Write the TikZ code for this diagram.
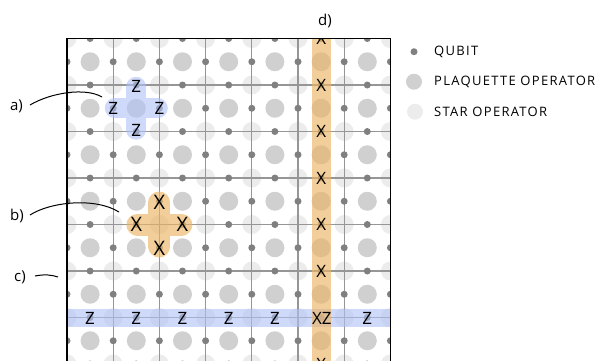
\documentclass[tikz,border=0pt]{standalone}
\usepackage{fontspec}
\setmainfont{Open Sans}
\newfontfamily\legfont[LetterSpace=10]{Open Sans}
\definecolor{qubitc}{RGB}{128,128,128}
\definecolor{plaqc}{RGB}{208,208,208}
\definecolor{starc}{RGB}{236,236,236}
\definecolor{gridc}{RGB}{150,150,150}
\definecolor{blueh}{RGB}{175,192,245}
\definecolor{orangeh}{RGB}{235,180,100}
\begin{document}
\begin{tikzpicture}[x=1pt,y=-1pt,
  qubit/.style={fill=qubitc},
  plaq/.style={fill=plaqc},
  star/.style={fill=starc},
  gridline/.style={draw=gridc,line width=1.2pt},
  bluehl/.style={blueh,opacity=0.6},
  orangehl/.style={orangeh,opacity=0.65},
  oplet/.style={inner sep=0pt,font=\fontsize{17}{17}\selectfont},
  bigop/.style={inner sep=0pt,font=\fontsize{20}{20}\selectfont},
  lbl/.style={inner sep=0pt,font=\fontsize{15}{15}\selectfont},
  legtext/.style={anchor=west,inner sep=0pt,font=\legfont\fontsize{13}{13}\selectfont},
  pointer/.style={draw=black,line width=1pt}]
\useasboundingbox (0,0) rectangle (611,360);
\def\sx{46.2}
\def\sy{46.5}
\def\ox{67}
\def\oy{38.5}
\begin{scope}
\clip (67,38.5) rectangle (390.4,360);
% star operators at vertices
\foreach \i in {0,...,7}{\foreach \j in {0,...,7}{
  \fill[star] (\ox+\i*\sx,\oy+\j*\sy) circle (9.5);}}
% plaquette operators at faces
\foreach \i in {0,...,6}{\foreach \j in {0,...,6}{
  \fill[plaq] (\ox+\i*\sx+0.5*\sx,\oy+\j*\sy+0.5*\sy) circle (9.5);}}
% grid
\foreach \i in {1,...,6}{\draw[gridline] (\ox+\i*\sx,\oy) -- (\ox+\i*\sx,365);}
\foreach \j in {1,...,7}{\draw[gridline] (\ox,\oy+\j*\sy) -- (391,\oy+\j*\sy);}
% qubits
\foreach \i in {0,...,6}{\foreach \j in {0,...,7}{
  \fill[qubit] (\ox+\i*\sx+0.5*\sx,\oy+\j*\sy) circle (3.5);}}
\foreach \i in {0,...,7}{\foreach \j in {0,...,6}{
  \fill[qubit] (\ox+\i*\sx,\oy+\j*\sy+0.5*\sy) circle (3.5);}}
% highlights
\fill[bluehl] (67,309) rectangle (391,327);
\fill[orangehl] (311.8,38) rectangle (330.8,361);
\draw[bluehl,line width=20pt,line cap=round]
  (136.3,86.75) -- (136.3,129.75) (114.8,108.25) -- (157.8,108.25);
\draw[orangehl,line width=22pt,line cap=round]
  (159.4,202.5) -- (159.4,246.5) (137.4,224.5) -- (181.4,224.5);
% a) plaquette Z
\node[oplet] (za1) at (136.3,86) {Z};
\node[oplet] (za2) at (113.2,108.25) {Z};
\node[oplet] (za3) at (159.4,108.25) {Z};
\node[oplet] (za4) at (136.3,130.5) {Z};
% b) star X
\node[bigop] (xb1) at (159.4,202) {X};
\node[bigop] (xb2) at (136.3,224.5) {X};
\node[bigop] (xb3) at (182.5,224.5) {X};
\node[bigop] (xb4) at (159.4,248) {X};
% c) Z string
\foreach \i in {0,1,2,3,4,6}{
  \node[oplet] (zc\i) at (\ox+\i*\sx+0.5*\sx,318) {Z};}
% d) X string
\foreach \j in {0,1,2,3,4,5,7}{
  \node[oplet] (xd\j) at (321.3,\oy+\j*\sy) {X};}
\node[oplet] (xz) at (321.8,318) {XZ};
\end{scope}
% border
\draw[line width=1.3pt] (67,370) -- (67,38.5) -- (390.4,38.5) -- (390.4,370);
% labels and pointers
\node[lbl] (la) at (16.5,106) {a)};
\node[lbl] (lb) at (17,216) {b)};
\node[lbl] (lc) at (20,277) {c)};
\node[lbl] (ld) at (325,21) {d)};
\coordinate (ta) at (102,97);
\coordinate (tb) at (119,212);
\coordinate (tc) at (58,277);
\draw[pointer] (30,105) .. controls (50,93) and (85,87) .. (ta);
\draw[pointer] (30,215) .. controls (50,202) and (95,197) .. (tb);
\draw[pointer] (35,276) .. controls (45,274) and (52,275) .. (tc);
% legend
\fill[qubit] (414,51.7) circle (3.5);
\fill[plaq] (414,81.7) circle (8);
\fill[star] (415,111.7) circle (8);
\node[legtext] (lq) at (434,51.7) {QUBIT};
\node[legtext] (lp) at (434,81.7) {PLAQUETTE OPERATOR};
\node[legtext] (ls) at (434,111.7) {STAR OPERATOR};
\end{tikzpicture}
\end{document}
